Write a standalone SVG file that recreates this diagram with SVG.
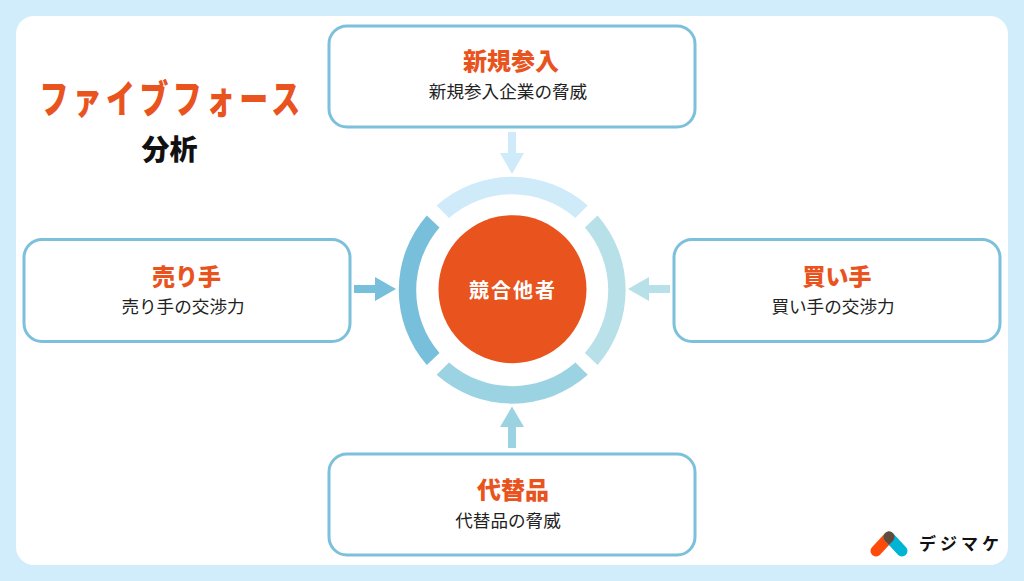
<svg xmlns="http://www.w3.org/2000/svg" width="1024" height="581" viewBox="0 0 1024 581">
<style>
text{font-family:"Noto Sans CJK JP","Noto Sans",sans-serif;text-anchor:middle}
.box{fill:#fff;stroke:#7cc0dc;stroke-width:3}
.h{fill:#e9531d;font-size:24px;font-weight:900}
.s{fill:#222;font-size:17.6px;font-weight:400}
</style>
<rect width="1024" height="581" fill="#d1ecfb"/>
<rect x="16" y="16" width="992" height="549" rx="18" fill="#fff"/>
<g id="title">
<text transform="translate(172 113) scale(.85 1.14)" font-size="34" font-weight="900" fill="#e9531d" letter-spacing="5.200">ファイブフォース</text>
<text x="169.500" y="160" font-size="28" font-weight="900" fill="#111">分析</text>
</g>
<g id="node-entrants">
<rect class="box" x="329" y="26" width="366" height="101" rx="18"/>
<text class="h" x="511" y="70">新規参入</text>
<text class="s" x="508" y="98">新規参入企業の脅威</text>
</g>
<g id="node-sellers">
<rect class="box" x="24" y="239.500" width="326" height="102" rx="18"/>
<text class="h" x="186.500" y="285" style="font-size:23px">売り手</text>
<text class="s" x="183" y="313">売り手の交渉力</text>
</g>
<g id="node-buyers">
<rect class="box" x="674" y="239.500" width="326" height="102" rx="18"/>
<text class="h" x="837" y="285" style="font-size:23px">買い手</text>
<text class="s" x="833" y="313">買い手の交渉力</text>
</g>
<g id="node-substitutes">
<rect class="box" x="329" y="454" width="366" height="101" rx="18"/>
<text class="h" x="513" y="499">代替品</text>
<text class="s" x="508" y="527">代替品の脅威</text>
</g>
<g id="connectors">
<path fill="#cfebfa" d="M508 132h8v21h8l-12 21-12-21h8z"/>
<path fill="#9bd3e3" d="M508 448h8v-21h8l-12-20.500-12 20.500h8z"/>
<path fill="#78bfdb" d="M354 285h21v-8l21 12-21 12v-8h-21z"/>
<path fill="#b8e0e9" d="M670 285h-21v-8l-21 12 21 12v-8h21z"/>
</g>
<g id="ring" transform="translate(512.200 290.200)">
<path fill="#cfebfa" d="M-75.600 -84.600A113.500 113.500 0 0 1 75.600 -84.600L63.200 -72.200A96 96 0 0 0 -63.200 -72.200Z"/>
<path fill="#9bd3e3" d="M-75.600 84.600A113.500 113.500 0 0 0 75.600 84.600L63.200 72.200A96 96 0 0 1 -63.200 72.200Z"/>
<path fill="#78bfdb" d="M-85.400 -74.700A113.500 113.500 0 0 0 -85.400 74.700L-72.700 62.700A96 96 0 0 1 -72.700 -62.700Z"/>
<path fill="#b8e0e9" d="M85.400 -74.700A113.500 113.500 0 0 1 85.400 74.700L72.700 62.700A96 96 0 0 0 72.700 -62.700Z"/>
</g>
<g id="node-rivals">
<circle cx="512.500" cy="289.200" r="74" fill="#e9531d"/>
<text x="513" y="298" font-size="20" font-weight="700" fill="#fff" letter-spacing="2">競合他者</text>
</g>
<g id="logo">
<path stroke="#ff4b0a" stroke-width="11" stroke-linecap="round" fill="none" d="M876 551L889 537"/>
<path stroke="#00b4d5" stroke-width="11" stroke-linecap="round" fill="none" d="M902 551L889 537"/>
<path fill="#624a3c" d="M885.100 540.900A5.500 5.500 0 1 1 892.900 540.900L889 544.800Z"/>
<text x="961" y="550" font-size="17" font-weight="700" fill="#111" letter-spacing="4">デジマケ</text>
</g>
</svg>
